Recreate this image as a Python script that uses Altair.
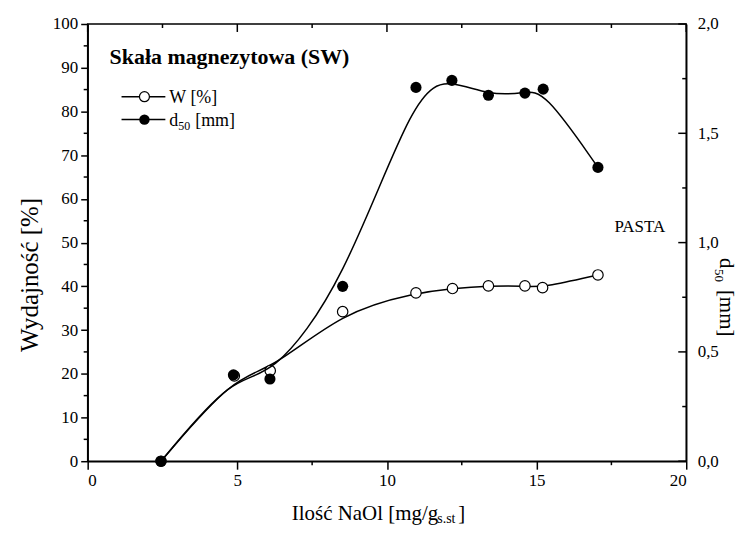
import altair as alt
import pandas as pd

# ---- data ----
x_w = [2.45, 4.9, 6.1, 8.52, 10.97, 12.19, 13.39, 14.61, 15.2, 17.05]
w_vals = [0.0, 19.5, 20.7, 34.2, 38.5, 39.5, 40.1, 40.1, 39.7, 42.6]
x_d = [2.45, 4.87, 6.09, 8.52, 10.97, 12.17, 13.39, 14.61, 15.22, 17.05]
d50_vals = [0.0, 0.395, 0.376, 0.80, 1.71, 1.742, 1.674, 1.684, 1.702, 1.344]

x_major = [0, 5, 10, 15, 20]
x_minor = [2.5, 7.5, 12.5, 17.5]
y_major = [0, 10, 20, 30, 40, 50, 60, 70, 80, 90, 100]
y_minor = [5, 15, 25, 35, 45, 55, 65, 75, 85, 95]
d_major = [0.0, 0.5, 1.0, 1.5, 2.0]
d_minor = [0.25, 0.75, 1.25, 1.75]

title_text = ["Skała magnezytowa (SW)"]
legend_w = ["W [%]"]
legend_d = ["d"]
legend_d_sub = ["50"]
legend_d_unit = ["[mm]"]
pasta = ["PASTA"]
y_title = ["Wydajność [%]"]
x_title = ["Ilość NaOl [mg/g"]
x_title_sub = ["s.st"]
x_title_end = ["]"]
r_title = ["d"]
r_title_sub = ["50"]
r_title_unit = ["[mm]"]

PW, PH = 601, 439
FONT = "Liberation Serif, Times New Roman, DejaVu Serif, serif"

df_w = pd.DataFrame({"x": x_w, "W": w_vals})
df_d = pd.DataFrame({"x": x_d, "d50": d50_vals})

xs = alt.Scale(domain=[0, 20], nice=False, zero=False)
ws = alt.Scale(domain=[0, 100], nice=False)
ds = alt.Scale(domain=[0, 2], nice=False)

x_axis = alt.Axis(values=x_major, format="d", title=None, tickSize=8, labelPadding=3)
w_axis = alt.Axis(values=y_major, title=None, tickSize=7, labelPadding=3)
d_axis = alt.Axis(orient="right", values=d_major, title=None, ticks=False, tickSize=0,
                  labelPadding=11,
                  labelExpr="replace(format(datum.value, '.1f'), '.', ',')")

X = alt.X("x:Q", scale=xs, axis=x_axis)
YW = alt.Y("W:Q", scale=ws, axis=w_axis)
YD = alt.Y("d50:Q", scale=ds, axis=d_axis)

# ---- left (W) layer ----
w_line = alt.Chart(df_w).mark_line(interpolate="basis", color="black", strokeWidth=1.5).encode(x=X, y=YW)
w_pts = alt.Chart(df_w).mark_point(shape="circle", filled=True, fill="white", stroke="black",
                                   strokeWidth=1.2, size=110, opacity=1).encode(x=X, y=YW)

left_minor = alt.Chart(pd.DataFrame({"W": y_minor})).mark_rule(color="black", strokeWidth=1.5).encode(
    y=YW, x=alt.value(-4), x2=alt.value(0))
bottom_minor = alt.Chart(pd.DataFrame({"x": x_minor})).mark_rule(color="black", strokeWidth=1.5).encode(
    x=X, y=alt.value(PH), y2=alt.value(PH + 4))
top_major = alt.Chart(pd.DataFrame({"x": x_major})).mark_rule(color="black", strokeWidth=1.5).encode(
    x=X, y=alt.value(0), y2=alt.value(8))
top_minor = alt.Chart(pd.DataFrame({"x": x_minor})).mark_rule(color="black", strokeWidth=1.5).encode(
    x=X, y=alt.value(0), y2=alt.value(4))

left = alt.layer(w_line, left_minor, bottom_minor, top_major, top_minor, w_pts)

# ---- right (d50) layer ----
d_line = alt.Chart(df_d).mark_line(interpolate="basis", color="black", strokeWidth=1.5).encode(x=X, y=YD)
d_pts = alt.Chart(df_d).mark_circle(color="black", size=125, opacity=1).encode(x=X, y=YD)
right_major = alt.Chart(pd.DataFrame({"d50": d_major})).mark_rule(color="black", strokeWidth=1.5).encode(
    y=YD, x=alt.value(PW - 8), x2=alt.value(PW))
right_minor = alt.Chart(pd.DataFrame({"d50": d_minor})).mark_rule(color="black", strokeWidth=1.5).encode(
    y=YD, x=alt.value(PW - 4), x2=alt.value(PW))

right = alt.layer(d_line, right_major, right_minor, d_pts)


# ---- annotations ----
def txt(lst, x, y, size, angle=0, weight="normal", align="left", baseline="alphabetic"):
    return alt.Chart(pd.DataFrame({"t": lst})).mark_text(
        font=FONT, fontSize=size, fontWeight=weight, color="black", align=align,
        baseline=baseline, angle=angle).encode(
        x=alt.value(x), y=alt.value(y), text="t:N")


one = pd.DataFrame({"a": [0]})
leg_w_line = alt.Chart(one).mark_rule(color="black", strokeWidth=1.5).encode(
    x=alt.value(34), x2=alt.value(78), y=alt.value(73))
leg_w_pt = alt.Chart(one).mark_point(shape="circle", filled=True, fill="white", stroke="black",
                                     strokeWidth=1.2, size=100, opacity=1).encode(
    x=alt.value(57), y=alt.value(73))
leg_d_line = alt.Chart(one).mark_rule(color="black", strokeWidth=1.5).encode(
    x=alt.value(34), x2=alt.value(78), y=alt.value(96))
leg_d_pt = alt.Chart(one).mark_circle(color="black", size=110, opacity=1).encode(
    x=alt.value(57), y=alt.value(96))

annots = [
    txt(title_text, 22, 40, 22, weight="bold"),
    leg_w_line, leg_w_pt, leg_d_line, leg_d_pt,
    txt(legend_w, 82, 79, 18),
    txt(legend_d, 82, 102, 18),
    txt(legend_d_sub, 91, 106, 12),
    txt(legend_d_unit, 108, 102, 18),
    txt(pasta, 529, 209, 17),
    txt(y_title, -50, 252, 25, angle=270, align="center"),
    txt(x_title, 205, 498, 21),
    txt(x_title_sub, 351, 501, 14),
    txt(x_title_end, 372, 498, 21),
    txt(r_title, 635, 235, 21, angle=90),
    txt(r_title_sub, 630, 246, 13, angle=90),
    txt(r_title_unit, 635, 267, 21, angle=90),
]

chart = alt.layer(left, right, *annots).resolve_scale(y="independent").properties(
    width=PW, height=PH,
    padding={"left": 80, "top": 15, "right": 55, "bottom": 64},
    autosize=alt.AutoSizeParams(type="none"),
    background="white",
).configure_view(
    stroke="black", strokeWidth=1.5
).configure_axis(
    grid=False, domainColor="black", domainWidth=1.5, tickColor="black", tickWidth=1.5,
    labelColor="black", labelFont=FONT, labelFontSize=17,
)

chart.save("out.html", embed_options={"renderer": "svg", "actions": False})
